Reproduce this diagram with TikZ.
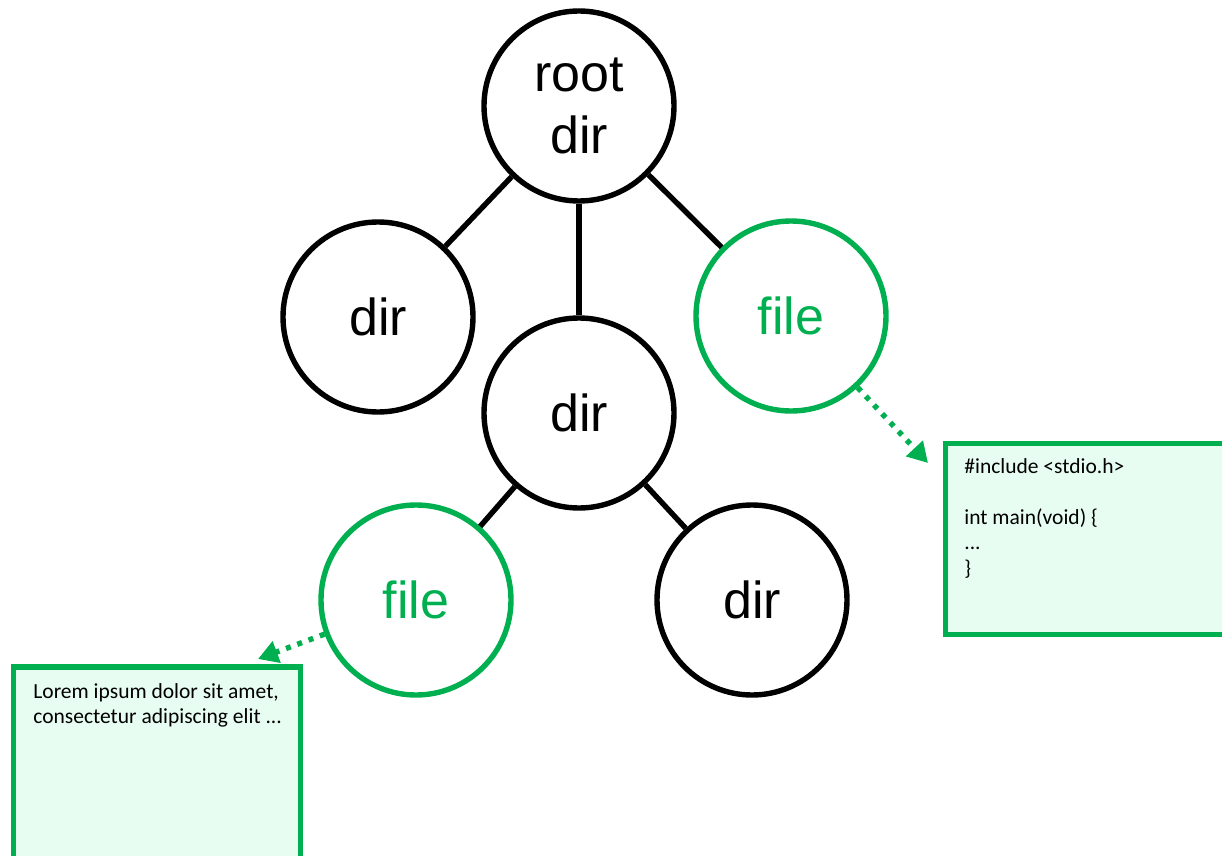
\documentclass[tikz,border=0pt]{standalone}
\usepackage{fontspec}
\setmainfont{Liberation Sans}
\newfontfamily\notefont{Carlito}
\usetikzlibrary{arrows.meta}
\definecolor{filegreen}{RGB}{0,176,80}
\definecolor{notefill}{RGB}{232,253,241}

\tikzset{
 dirnode/.style={circle,draw=black,line width=2.7pt,minimum size=95pt,inner sep=0pt,align=center,font=\fontsize{26}{31}\selectfont},
 filenode/.style={dirnode,draw=filegreen,text=filegreen},
 edge/.style={black,line width=2.7pt},
 notebox/.style={rectangle,draw=filegreen,fill=notefill,line width=2.7pt,anchor=north west,inner sep=0pt,outer sep=0pt},
 notetext/.style={anchor=north west,inner sep=0pt,align=left,font=\notefont\fontsize{10.75}{12.75}\selectfont},
 fileptr/.style={filegreen,line width=2.7pt,dash pattern=on 2.5pt off 3.5pt,-{Triangle[length=10pt,width=11pt]}}
}

\begin{document}
\begin{tikzpicture}[x=0.5pt,y=-0.5pt]
\useasboundingbox (0,0) rectangle (1222,856);

\node[dirnode] (root) at (579,106) {root\\dir};
\node[dirnode] (dirL) at (378,317) {dir};
\node[dirnode] (dirM) at (579,413) {dir};
\node[filenode] (fileR) at (791,316) {file};
\node[filenode] (fileB) at (416,600) {file};
\node[dirnode] (dirB) at (752,600) {dir};

\draw[edge] (root) -- (dirL);
\draw[edge] (root) -- (dirM);
\draw[edge] (root) -- (fileR);
\draw[edge] (dirM) -- (fileB);
\draw[edge] (dirM) -- (dirB);

% contents of the files
\node[notebox,minimum width=147pt,minimum height=95.5pt] (codebox) at (945.5,443.5) {};
\node[notetext] (code) at (964,458) {\#include <stdio.h>\\[12.75pt]int main(void) \{\\...\\\}};
\node[notebox,minimum width=143.5pt,minimum height=106.5pt] (textbox) at (13.5,667) {};
\node[notetext] (lorem) at (33,683) {Lorem ipsum dolor sit amet,\\consectetur adipiscing elit ...};

\coordinate (tipR) at (928,463);
\coordinate (tipB) at (258,659);
\draw[fileptr] (fileR) -- (tipR);
\draw[fileptr] (fileB) -- (tipB);
\end{tikzpicture}
\end{document}
